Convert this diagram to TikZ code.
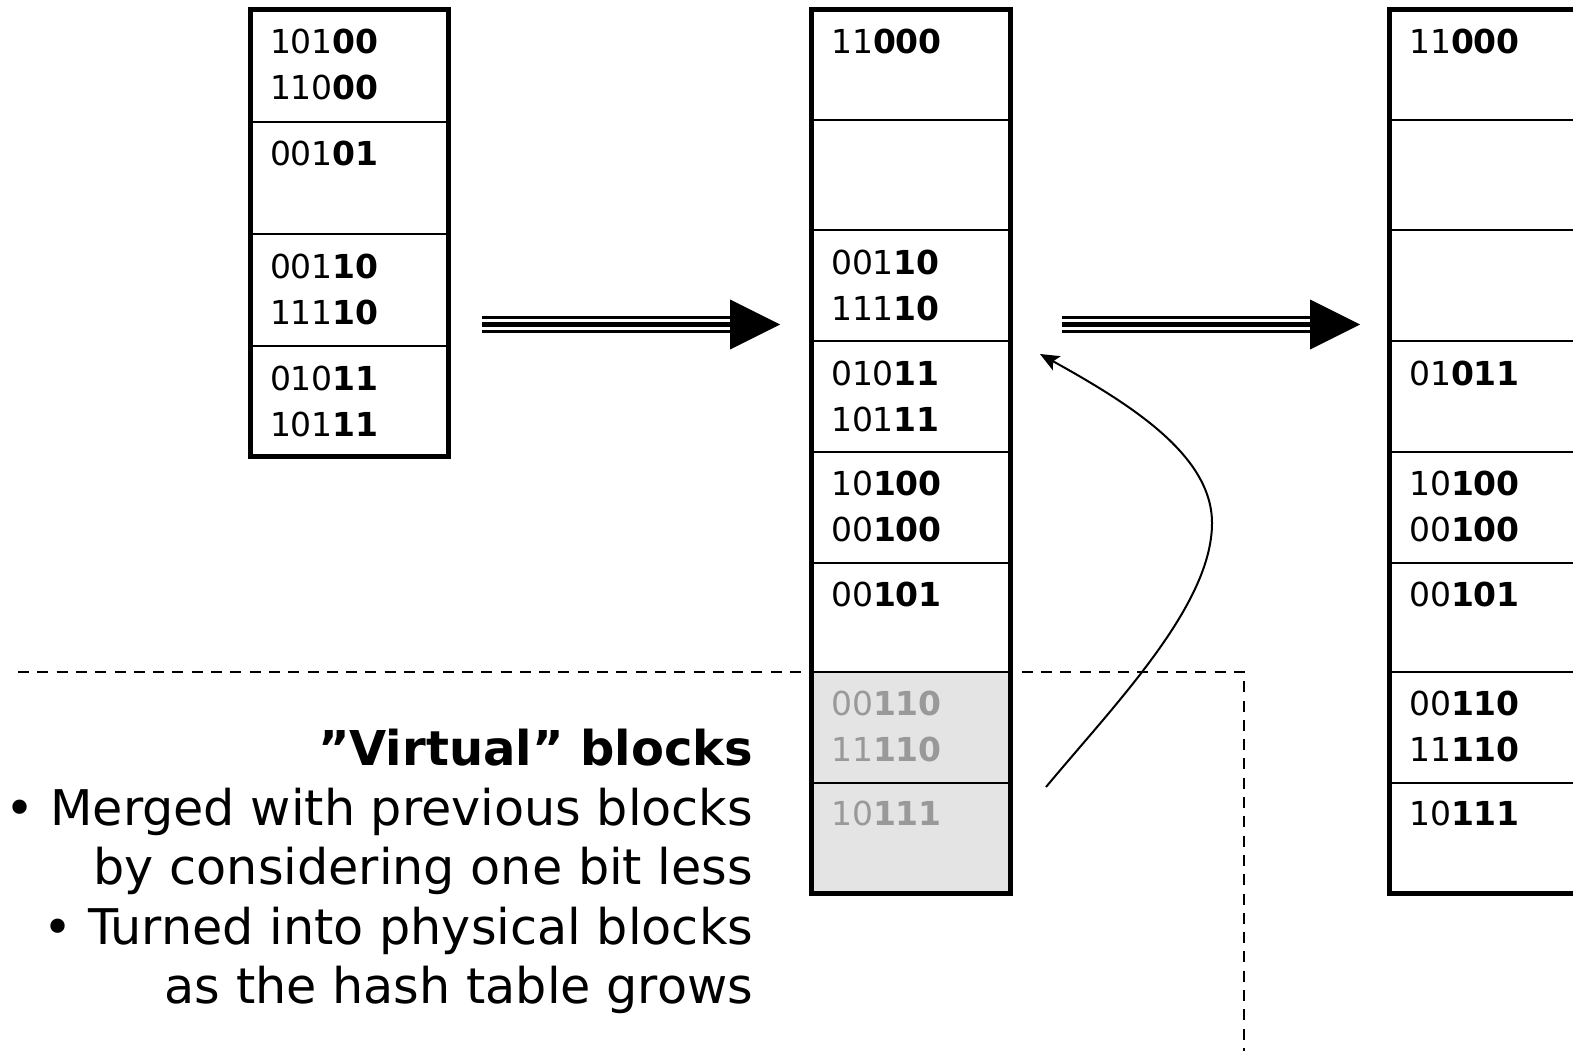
\documentclass[tikz,border=0pt]{standalone}
\usepackage{fontspec}
\setmainfont{DejaVu Sans}
\usetikzlibrary{arrows.meta}

\definecolor{virtfill}{HTML}{E4E4E4}
\definecolor{virttext}{HTML}{999999}
\newcommand{\bt}[2]{#1\textbf{#2}}

\begin{document}
\begin{tikzpicture}[x=1pt,y=-1pt,
  every node/.style={inner sep=0pt, outer sep=0pt},
  key/.style={anchor=base west, font=\fontsize{33}{46}\selectfont},
  ghost/.style={key, text=virttext},
  note/.style={anchor=base east, font=\fontsize{49.2}{59}\selectfont},
  frame/.style={line width=5pt},
  divider/.style={line width=2pt},
  border/.style={line width=2pt, dash pattern=on 11pt off 8.3pt},
  shaft/.style={double, double distance=11pt, line width=3pt},
  core/.style={line width=5pt},
  link/.style={line width=2pt, -{Stealth[length=19pt,width=16pt,inset=4pt]}}]

\useasboundingbox (0,0) rectangle (1573,1051);
\clip (0,0) rectangle (1573,1051);

% boundary of the virtual region
\draw[border] (18,672) -- (1244,672) -- (1244,1060);

% ---------- old table (2 bits) ----------
\foreach \y in {122,234,346} \draw[divider] (250,\y) -- (448,\y);
\draw[frame] (250,10) rectangle (448,456);
\node[key] (l1a) at (270,54)  {\bt{101}{00}};
\node[key] (l1b) at (270,100) {\bt{110}{00}};
\node[key] (l2a) at (270,166) {\bt{001}{01}};
\node[key] (l3a) at (270,278) {\bt{001}{10}};
\node[key] (l3b) at (270,324) {\bt{111}{10}};
\node[key] (l4a) at (270,390) {\bt{010}{11}};
\node[key] (l4b) at (270,436) {\bt{101}{11}};

% ---------- grown table with virtual blocks (3 bits) ----------
\fill[virtfill] (811,672) rectangle (1010,893);
\foreach \y in {120,230,341,452,563,672,783} \draw[divider] (811,\y) -- (1010,\y);
\draw[frame] (811,10) rectangle (1010,893);
\node[key] (m1a) at (831,54)  {\bt{11}{000}};
\node[key] (m3a) at (831,274) {\bt{001}{10}};
\node[key] (m3b) at (831,320) {\bt{111}{10}};
\node[key] (m4a) at (831,385) {\bt{010}{11}};
\node[key] (m4b) at (831,431) {\bt{101}{11}};
\node[key] (m5a) at (831,495) {\bt{10}{100}};
\node[key] (m5b) at (831,541) {\bt{00}{100}};
\node[key] (m6a) at (831,606) {\bt{00}{101}};
\node[ghost] (m7a) at (831,715) {\bt{00}{110}};
\node[ghost] (m7b) at (831,761) {\bt{11}{110}};
\node[ghost] (m8a) at (831,825) {\bt{10}{111}};

% ---------- final table (3 bits) ----------
\foreach \y in {120,230,341,452,563,672,783} \draw[divider] (1389,\y) -- (1600,\y);
\draw[frame] (1389,10) rectangle (1600,893);
\node[key] (r1a) at (1409,54)  {\bt{11}{000}};
\node[key] (r4a) at (1409,385) {\bt{01}{011}};
\node[key] (r5a) at (1409,495) {\bt{10}{100}};
\node[key] (r5b) at (1409,541) {\bt{00}{100}};
\node[key] (r6a) at (1409,606) {\bt{00}{101}};
\node[key] (r7a) at (1409,715) {\bt{00}{110}};
\node[key] (r7b) at (1409,761) {\bt{11}{110}};
\node[key] (r8a) at (1409,825) {\bt{10}{111}};

% ---------- growth arrows ----------
\coordinate (g1s) at (482,324.5);
\coordinate (g1e) at (780,324.5);
\coordinate (g2s) at (1062,324.5);
\coordinate (g2e) at (1360,324.5);
\foreach \s/\e in {g1s/g1e, g2s/g2e} {
  \draw[shaft] (\s) -- ([xshift=-49pt]\e);
  \draw[core]  (\s) -- ([xshift=-49pt]\e);
  \fill (\e) -- ++(-50,-25) -- ++(0,50) -- cycle;
}

% ---------- merge arrow ----------
\coordinate (vfrom) at (1046,787);
\coordinate (vturn) at (1212,523);
\coordinate (vto) at (1040,354);
\draw[link] (vfrom) .. controls (1116,703) and (1212,605) .. (vturn)
                    .. controls (1212,455) and (1130,404) .. (vto);

% ---------- explanation ----------
\node[note, font=\fontsize{48}{59}\selectfont\bfseries] (ttl) at (753,765) {”Virtual” blocks};
\node[note] (n1) at (753,825)  {• Merged with previous blocks};
\node[note] (n2) at (753,884)  {by considering one bit less};
\node[note] (n3) at (753,944)  {• Turned into physical blocks};
\node[note] (n4) at (753,1003) {as the hash table grows};
\end{tikzpicture}
\end{document}
